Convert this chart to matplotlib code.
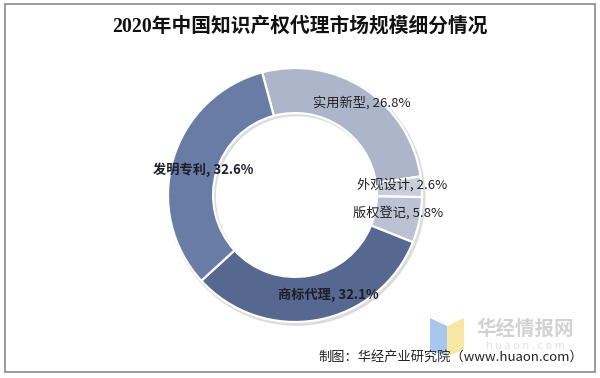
import matplotlib
matplotlib.use("Agg")
import matplotlib.pyplot as plt
from matplotlib.patches import Rectangle, Polygon

plt.rcParams['font.family'] = ['Noto Sans CJK SC', 'DejaVu Sans']

categories = ['实用新型', '外观设计', '版权登记', '商标代理', '发明专利']
values = [26.8, 2.6, 5.8, 32.1, 32.6]
colors = ['#adb5cb', '#c9cedb', '#bcc2d4', '#56688f', '#687ca6']
label_text = ['实用新型, 26.8%', '外观设计, 2.6%', '版权登记, 5.8%', '商标代理, 32.1%', '发明专利, 32.6%']
bold = [False, False, False, True, True]
# label anchor positions (pixels, from top-left) and alignment
label_pos = [(313, 103), (357, 185), (353, 213), (278, 295), (153, 170)]

W, H = 600, 378
fig = plt.figure(figsize=(6, 3.78), dpi=100)
fig.patch.set_facecolor('white')

# border
fig.add_artist(Rectangle((5 / W, (H - 372) / H), 590 / W, 368 / H, transform=fig.transFigure,
                         fill=False, edgecolor='#8a8a8a', linewidth=1.2))

cx, cy, R = 295, 195, 127
half = 140
ax = fig.add_axes([(cx - half) / W, (H - cy - half) / H, 2 * half / W, 2 * half / H])
lim = half / R

# soft shadow
ax.pie(values, startangle=105, counterclock=False, radius=1.015,
       colors=['#dcdcdc'] * len(values), center=(0.012, -0.015),
       wedgeprops=dict(width=0.38, linewidth=0))
ax.pie(values, startangle=105, counterclock=False, radius=1.0,
       colors=colors, wedgeprops=dict(width=0.355, edgecolor='white', linewidth=1.6))
ax.set_xlim(-lim, lim)
ax.set_ylim(-lim, lim)
ax.set_aspect('equal')
ax.axis('off')

for txt, (px, py), b in zip(label_text, label_pos, bold):
    fig.text(px / W, (H - py) / H, txt, ha='left', va='center', fontsize=9.5,
             fontweight='bold' if b else 'normal', color='#1e1e28' if b else '#222222')

fig.text(300 / W, (H - 27) / H, '2020年中国知识产权代理市场规模细分情况', ha='center', va='center',
         fontsize=14.2, fontweight='bold', color='#111111',
         family=['Liberation Serif', 'Noto Sans CJK SC'])

# watermark logo
fig.add_artist(Polygon([(430 / W, (H - 318) / H), (447 / W, (H - 326) / H),
                        (447 / W, (H - 356) / H), (430 / W, (H - 350) / H)],
                       closed=True, transform=fig.transFigure, facecolor='#a9c6ee', edgecolor='none'))
fig.add_artist(Polygon([(447 / W, (H - 326) / H), (464 / W, (H - 318) / H),
                        (464 / W, (H - 350) / H), (447 / W, (H - 356) / H)],
                       closed=True, transform=fig.transFigure, facecolor='#f7e7a6', edgecolor='none'))
fig.text(525 / W, (H - 329) / H, '华经情报网', ha='center', va='center', fontsize=14,
         fontweight='bold', color='#d2d2d2')
fig.text(525 / W, (H - 346) / H, 'h u a o n . c o m', ha='center', va='center', fontsize=8,
         color='#e2e2e2')

fig.text(583 / W, (H - 357) / H, '制图：华经产业研究院（www.huaon.com）', ha='right', va='center',
         fontsize=9.5, color='#222222')

fig.savefig('out.png', dpi=100, facecolor='white')
